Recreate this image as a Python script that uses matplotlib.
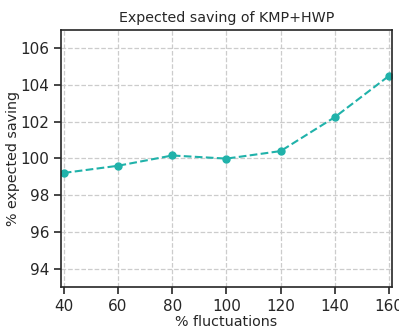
import matplotlib
matplotlib.use("Agg")
import matplotlib.pyplot as plt

fluct = [40, 60, 80, 100, 120, 140, 160]
saving = [99.21, 99.6, 100.16, 99.99, 100.4, 102.25, 104.5]
xticks = [40, 60, 80, 100, 120, 140, 160]
yticks = [94, 96, 98, 100, 102, 104, 106]

fig = plt.figure(figsize=(3.99, 3.28), dpi=100)
ax = fig.add_axes([0.153, 0.125, 0.829, 0.784])

ax.plot(fluct, saving, color="lightseagreen", linestyle="--", marker="o", markersize=5, linewidth=1.5)

ax.set_title("Expected saving of KMP+HWP", fontsize=10.3, color="#262626")
ax.set_xlabel("% fluctuations", fontsize=10.3, color="#262626", labelpad=0.5)
ax.set_ylabel("% expected saving", fontsize=10.3, color="#262626", labelpad=0)
ax.set_xticks(xticks)
ax.set_yticks(yticks)
ax.set_xlim(39, 161)
ax.set_ylim(93, 107)
ax.grid(True, linestyle="--", color="#cccccc", linewidth=0.9)
ax.tick_params(axis="both", direction="out", length=5, width=1.2, labelsize=11, colors="#262626")
for s in ax.spines.values():
    s.set_color("#262626")
    s.set_linewidth(1.2)

plt.savefig("out.png", dpi=100)
